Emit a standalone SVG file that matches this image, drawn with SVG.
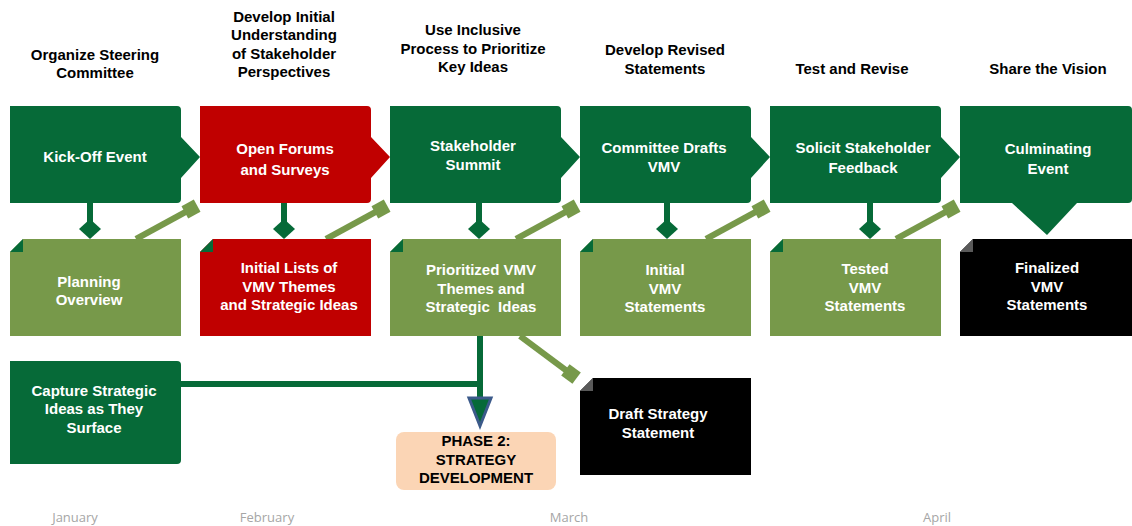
<svg xmlns="http://www.w3.org/2000/svg" width="1132" height="526" viewBox="0 0 1132 526">
<style>
.hdr{font-family:"Liberation Sans",Arial,sans-serif;font-weight:bold;font-size:15px;fill:#000;text-anchor:middle}
.lbl{font-family:"Liberation Sans",Arial,sans-serif;font-weight:bold;font-size:15px;fill:#fff;text-anchor:middle}
.ph{font-family:"Liberation Sans",Arial,sans-serif;font-weight:bold;font-size:15px;fill:#000;text-anchor:middle}
.mon{font-family:"Open Sans","Liberation Sans",sans-serif;font-size:13px;fill:#A6A6A6;text-anchor:middle}
.dg{fill:#066A38}
.lg{fill:#77994A}
.rd{fill:#C00000}
.bk{fill:#000}
.fold{fill:#066A38}
.foldg{fill:#5A5A5A}
.vline{stroke:#066A38;stroke-width:6;fill:none}
.dline{stroke:#77994A;stroke-width:6;fill:none}
</style>
<defs>
<marker id="dia" markerUnits="userSpaceOnUse" markerWidth="24" markerHeight="24" refX="12" refY="12" orient="0">
<path d="M1,12 L12,2 L23,12 L12,22 Z" fill="#066A38"/>
</marker>
<marker id="sq" markerUnits="userSpaceOnUse" markerWidth="20" markerHeight="20" refX="10" refY="10" orient="auto">
<rect x="3" y="3" width="14" height="14" fill="#77994A"/>
</marker>
</defs>

<g id="headers">
<text class="hdr" x="95" y="60">Organize Steering</text>
<text class="hdr" x="95" y="78">Committee</text>
<text class="hdr" x="284" y="22">Develop Initial</text>
<text class="hdr" x="284" y="40">Understanding</text>
<text class="hdr" x="284" y="59">of Stakeholder</text>
<text class="hdr" x="284" y="77">Perspectives</text>
<text class="hdr" x="473" y="35">Use Inclusive</text>
<text class="hdr" x="473" y="54">Process to Prioritize</text>
<text class="hdr" x="473" y="72">Key Ideas</text>
<text class="hdr" x="665" y="55">Develop Revised</text>
<text class="hdr" x="665" y="74">Statements</text>
<text class="hdr" x="852" y="74">Test and Revise</text>
<text class="hdr" x="1048" y="74">Share the Vision</text>
</g>

<g id="connectors">
<line class="vline" x1="90" y1="203" x2="90" y2="229" marker-end="url(#dia)"/>
<line class="vline" x1="284" y1="203" x2="284" y2="229" marker-end="url(#dia)"/>
<line class="vline" x1="479" y1="203" x2="479" y2="229" marker-end="url(#dia)"/>
<line class="vline" x1="667" y1="203" x2="667" y2="229" marker-end="url(#dia)"/>
<line class="vline" x1="870" y1="203" x2="870" y2="229" marker-end="url(#dia)"/>
<line class="dline" x1="136" y1="239" x2="191" y2="209" marker-end="url(#sq)"/>
<line class="dline" x1="326" y1="239" x2="381" y2="209" marker-end="url(#sq)"/>
<line class="dline" x1="516" y1="239" x2="571" y2="209" marker-end="url(#sq)"/>
<line class="dline" x1="706" y1="239" x2="761" y2="209" marker-end="url(#sq)"/>
<line class="dline" x1="896" y1="239" x2="951" y2="209" marker-end="url(#sq)"/>
<line class="dline" x1="520" y1="336" x2="571" y2="374" marker-end="url(#sq)"/>
<line class="vline" x1="181" y1="384" x2="483" y2="384"/>
<line class="vline" x1="480" y1="336" x2="480" y2="398"/>
<polygon points="469,398 491,398 480,426" fill="#066A38" stroke="#3B5A8A" stroke-width="3" stroke-linejoin="miter"/>
</g>

<g id="kickoff">
<path class="dg" d="M10,106 H177 Q181,106 181,110 V137 L200,157 L181,178 V199 Q181,203 177,203 H10 Z"/>
<text class="lbl" x="95" y="162">Kick-Off Event</text>
</g>
<g id="forums">
<path class="rd" d="M200,106 H367 Q371,106 371,110 V137 L390,157 L371,178 V199 Q371,203 367,203 H200 Z"/>
<text class="lbl" x="285" y="154">Open Forums</text>
<text class="lbl" x="285" y="175">and Surveys</text>
</g>
<g id="summit">
<path class="dg" d="M390,106 H557 Q561,106 561,110 V137 L580,157 L561,178 V199 Q561,203 557,203 H390 Z"/>
<text class="lbl" x="473" y="151">Stakeholder</text>
<text class="lbl" x="473" y="170">Summit</text>
</g>
<g id="drafts">
<path class="dg" d="M580,106 H747 Q751,106 751,110 V137 L770,157 L751,178 V199 Q751,203 747,203 H580 Z"/>
<text class="lbl" x="664" y="153">Committee Drafts</text>
<text class="lbl" x="664" y="172">VMV</text>
</g>
<g id="feedback">
<path class="dg" d="M770,106 H937 Q941,106 941,110 V137 L960,157 L941,178 V199 Q941,203 937,203 H770 Z"/>
<text class="lbl" x="863" y="153">Solicit Stakeholder</text>
<text class="lbl" x="863" y="173">Feedback</text>
</g>
<g id="culminating">
<path class="dg" d="M960,106 H1128 Q1132,106 1132,110 V199 Q1132,203 1128,203 H1077 L1047,235 L1012,203 H960 Z"/>
<text class="lbl" x="1048" y="154">Culminating</text>
<text class="lbl" x="1048" y="174">Event</text>
</g>

<g id="planning">
<path class="lg" d="M23,239 H181 V336 H10 V252 Z"/>
<path class="fold" d="M10,252 L23,239 V252 Z"/>
<text class="lbl" x="89" y="287">Planning</text>
<text class="lbl" x="89" y="305">Overview</text>
</g>
<g id="initiallists">
<path class="rd" d="M213,239 H371 V336 H200 V252 Z"/>
<path class="fold" d="M200,252 L213,239 V252 Z"/>
<text class="lbl" x="289" y="273">Initial Lists of</text>
<text class="lbl" x="289" y="292">VMV Themes</text>
<text class="lbl" x="289" y="310">and Strategic Ideas</text>
</g>
<g id="prioritized">
<path class="lg" d="M403,239 H561 V336 H390 V252 Z"/>
<path class="fold" d="M390,252 L403,239 V252 Z"/>
<text class="lbl" x="481" y="275">Prioritized VMV</text>
<text class="lbl" x="481" y="294">Themes and</text>
<text class="lbl" x="481" y="312" xml:space="preserve">Strategic  Ideas</text>
</g>
<g id="initialvmv">
<path class="lg" d="M593,239 H751 V336 H580 V252 Z"/>
<path class="fold" d="M580,252 L593,239 V252 Z"/>
<text class="lbl" x="665" y="275">Initial</text>
<text class="lbl" x="665" y="294">VMV</text>
<text class="lbl" x="665" y="312">Statements</text>
</g>
<g id="tested">
<path class="lg" d="M783,239 H941 V336 H770 V252 Z"/>
<path class="fold" d="M770,252 L783,239 V252 Z"/>
<text class="lbl" x="865" y="274">Tested</text>
<text class="lbl" x="865" y="293">VMV</text>
<text class="lbl" x="865" y="311">Statements</text>
</g>
<g id="finalized">
<path class="bk" d="M973,239 H1132 V336 H960 V252 Z"/>
<path class="foldg" d="M960,252 L973,239 V252 Z"/>
<text class="lbl" x="1047" y="273">Finalized</text>
<text class="lbl" x="1047" y="292">VMV</text>
<text class="lbl" x="1047" y="310">Statements</text>
</g>

<g id="capture">
<path class="dg" d="M10,361 H177 Q181,361 181,365 V460 Q181,464 177,464 H10 Z"/>
<text class="lbl" x="94" y="396">Capture Strategic</text>
<text class="lbl" x="94" y="414">Ideas as They</text>
<text class="lbl" x="94" y="433">Surface</text>
</g>
<g id="draftstrategy">
<path class="bk" d="M593,378 H751 V475 H580 V391 Z"/>
<path class="foldg" d="M580,391 L593,378 V391 Z"/>
<text class="lbl" x="658" y="419">Draft Strategy</text>
<text class="lbl" x="658" y="438">Statement</text>
</g>
<g id="phase2">
<rect x="396" y="432" width="160" height="58" rx="8" fill="#FBD5B5"/>
<text class="ph" x="476" y="446">PHASE 2:</text>
<text class="ph" x="476" y="465">STRATEGY</text>
<text class="ph" x="476" y="483">DEVELOPMENT</text>
</g>

<g id="months">
<text class="mon" x="75" y="522">January</text>
<text class="mon" x="267" y="522">February</text>
<text class="mon" x="569" y="522">March</text>
<text class="mon" x="937" y="522">April</text>
</g>
</svg>
